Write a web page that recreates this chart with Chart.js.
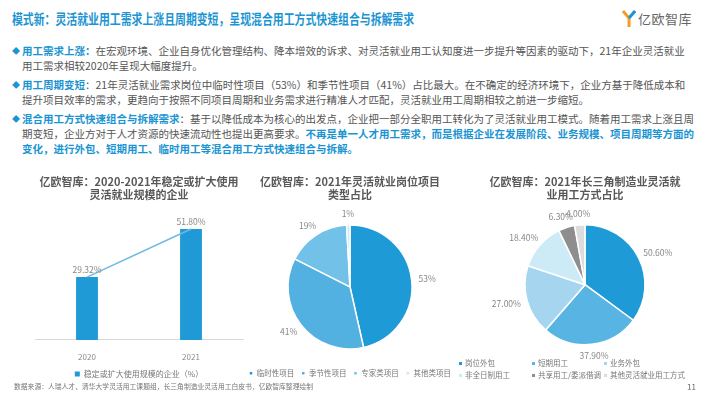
<!DOCTYPE html>
<html lang="zh-CN">
<head>
<meta charset="utf-8">
<title>模式新</title>
<script src="https://cdn.jsdelivr.net/npm/chart.js@4.4.1/dist/chart.umd.min.js"></script>
<style>
  html, body { margin: 0; padding: 0; background: #fff; }
  body { font-family: "Noto Sans CJK SC", "Noto Sans", sans-serif; }
  #slide { position: relative; width: 710px; height: 399px; overflow: hidden; background: #fff; }
  .titre {
    position: absolute; left: 12px; top: 8px; white-space: nowrap;
    font-size: 13.5px; font-weight: 700; color: #1a94d2;
    transform: scaleX(0.805); transform-origin: left top;
  }
  .logo { position: absolute; left: 622px; top: 9px; display: flex; align-items: center; }
  .logo span { font-size: 13px; color: #666; margin-left: 2px; letter-spacing: 0.5px; }
  .puces { position: absolute; left: 12px; top: 43px; font-size: 10.5px; color: #555; line-height: 15px; }
  .puce { margin-bottom: 4px; }
  .ligne { white-space: nowrap; padding-left: 10px; position: relative; }
  .ligne .losange { position: absolute; left: 0; top: 0; color: #1a94d2; font-size: 8px; }
  .cle { color: #1a94d2; font-weight: 700; }
  .boite { position: absolute; }
  .legende3 {
    position: absolute; left: 459px; top: 358px; display: grid;
    grid-template-columns: 73px 72px 100px; row-gap: 2px;
    font-size: 7.5px; color: #777; line-height: 10px;
  }
  .legende3 div { white-space: nowrap; display: flex; align-items: center; }
  .legende3 i { display: inline-block; width: 3px; height: 3px; margin-right: 3px; }
  .source { position: absolute; left: 14px; top: 381px; font-size: 6.8px; color: #777; white-space: nowrap; }
  .page { position: absolute; left: 687px; top: 381px; font-size: 8px; color: #666; }
</style>
</head>
<body>
<div id="slide">
  <div class="titre">模式新：灵活就业用工需求上涨且周期变短，呈现混合用工方式快速组合与拆解需求</div>
  <div class="logo">
    <svg width="14" height="18" viewBox="0 0 14 18">
      <path d="M1 1 L7 8 L7 17" stroke="#f39c2a" stroke-width="3" fill="none"/>
      <path d="M13 1 L7 8" stroke="#1a94d2" stroke-width="3" fill="none"/>
    </svg>
    <span>亿欧智库</span>
  </div>

  <div class="puces">
    <div class="puce">
      <div class="ligne"><span class="losange">◆</span><span class="cle">用工需求上涨：</span>在宏观环境、企业自身优化管理结构、降本增效的诉求、对灵活就业用工认知度进一步提升等因素的驱动下，21年企业灵活就业</div>
      <div class="ligne">用工需求相较2020年呈现大幅度提升。</div>
    </div>
    <div class="puce">
      <div class="ligne"><span class="losange">◆</span><span class="cle">用工周期变短</span>：21年灵活就业需求岗位中临时性项目（53%）和季节性项目（41%）占比最大。在不确定的经济环境下，企业方基于降低成本和</div>
      <div class="ligne">提升项目效率的需求，更趋向于按照不同项目周期和业务需求进行精准人才匹配，灵活就业用工周期相较之前进一步缩短。</div>
    </div>
    <div class="puce">
      <div class="ligne"><span class="losange">◆</span><span class="cle">混合用工方式快速组合与拆解需求</span>：基于以降低成本为核心的出发点，企业把一部分全职用工转化为了灵活就业用工模式。随着用工需求上涨且周</div>
      <div class="ligne">期变短，企业方对于人才资源的快速流动性也提出更高要求。<span class="cle">不再是单一人才用工需求，而是根据企业在发展阶段、业务规模、项目周期等方面的</span></div>
      <div class="ligne"><span class="cle">变化，进行外包、短期用工、临时用工等混合用工方式快速组合与拆解。</span></div>
    </div>
  </div>

  <div class="boite" style="left:25px;top:170px;width:230px;height:220px;"><canvas id="graphe1"></canvas></div>
  <div class="boite" style="left:230px;top:170px;width:240px;height:217px;"><canvas id="graphe2"></canvas></div>
  <div class="boite" style="left:475px;top:170px;width:220px;height:200px;"><canvas id="graphe3"></canvas></div>
  <div class="legende3" id="legende3"></div>

  <div class="source">数据来源：人瑞人才、清华大学灵活用工课题组，长三角制造业灵活用工白皮书，亿欧智库整理绘制</div>
  <div class="page">11</div>
</div>

<script>
// ==========================================================
// DONNÉES
// ==========================================================
const annees = ["2020", "2021"];
const partEntreprises = [29.32, 51.80];
const libelleSerie1 = "稳定或扩大使用规模的企业（%）";

const typesProjets = ["临时性项目", "季节性项目", "专家类项目", "其他类项目"];
const partProjets = [53, 41, 19, 1];
const couleursProjets = ["#1e9ad6", "#52b1e1", "#72c1e9", "#cfe7f4"];

const modesEmploi = ["岗位外包", "短期用工", "业务外包", "非全日制用工", "共享用工/委派借调", "其他灵活就业用工方式"];
const partModes = [50.6, 37.9, 27.0, 18.4, 6.3, 4.0];
const couleursModes = ["#1e9ad6", "#58b4e2", "#a6d6ef", "#cdeaf7", "#8e8e8e", "#dcdcdc"];

Chart.defaults.font.family = "'Noto Sans CJK SC', 'Noto Sans', sans-serif";
Chart.defaults.color = "#777";

const styleTitre = { size: 11, weight: "bold" };

// ==========================================================
// PLUGINS D'ÉTIQUETTES
// ==========================================================
const etiquettesBarres = {
  id: "etiquettesBarres",
  afterDatasetsDraw(chart) {
    const ctx = chart.ctx;
    const meta = chart.getDatasetMeta(1);
    ctx.save();
    ctx.font = "8.5px 'Noto Sans CJK SC', sans-serif";
    ctx.fillStyle = "#888";
    ctx.textAlign = "center";
    ctx.textBaseline = "bottom";
    meta.data.forEach((barre, i) => {
      ctx.fillText(partEntreprises[i].toFixed(2) + "%", barre.x, barre.y - 3);
    });
    ctx.restore();
  }
};

// Étiquettes à l'extérieur, le bord du texte collé au secteur (comme Excel)
function etiquettesSecteurs(format) {
  return {
    id: "etiquettesSecteurs",
    afterDatasetsDraw(chart) {
      const ctx = chart.ctx;
      const valeurs = chart.data.datasets[0].data;
      ctx.save();
      ctx.font = "8.5px 'Noto Sans CJK SC', sans-serif";
      ctx.fillStyle = "#888";
      ctx.textAlign = "center";
      ctx.textBaseline = "middle";
      chart.getDatasetMeta(0).data.forEach((arc, i) => {
        const texte = format(valeurs[i]);
        const angle = (arc.startAngle + arc.endAngle) / 2;
        const cos = Math.cos(angle), sin = Math.sin(angle);
        const r = arc.outerRadius + 7;
        const w = ctx.measureText(texte).width;
        const x = arc.x + cos * r + cos * w / 2;
        const y = arc.y + sin * r + sin * 4.5;
        ctx.fillText(texte, x, y);
      });
      ctx.restore();
    }
  };
}

// ==========================================================
// GRAPHIQUE 1 : BARRES + LIGNE
// ==========================================================
new Chart(document.getElementById("graphe1"), {
  type: "bar",
  data: {
    labels: annees,
    datasets: [
      {
        type: "line",
        label: "趋势",
        data: partEntreprises,
        borderColor: "#6db9e2",
        borderWidth: 1.5,
        pointRadius: 0,
        order: 0
      },
      {
        type: "bar",
        label: libelleSerie1,
        data: partEntreprises,
        backgroundColor: "#1f9ad6",
        categoryPercentage: 1,
        barPercentage: 0.21,
        order: 1
      }
    ]
  },
  options: {
    responsive: true,
    maintainAspectRatio: false,
    animation: false,
    layout: { padding: { left: 10, right: 12, bottom: 2 } },
    plugins: {
      title: {
        display: true,
        text: ["亿欧智库：2020-2021年稳定或扩大使用", "灵活就业规模的企业"],
        font: styleTitre, color: "#595959",
        padding: { top: 5, bottom: 10 }, lineHeight: 1.05
      },
      legend: {
        position: "bottom",
        labels: {
          filter: item => item.datasetIndex === 1,
          boxWidth: 5, boxHeight: 5, font: { size: 8 }, color: "#777", padding: 4.5
        }
      },
      tooltip: { enabled: false }
    },
    scales: {
      x: {
        grid: { display: false },
        border: { color: "#d9d9d9" },
        ticks: { color: "#888", font: { size: 8 }, padding: 4 }
      },
      y: { display: false, min: 0, max: 60 }
    }
  },
  plugins: [etiquettesBarres]
});

// ==========================================================
// GRAPHIQUE 2 : TYPES DE PROJETS
// ==========================================================
new Chart(document.getElementById("graphe2"), {
  type: "pie",
  data: {
    labels: typesProjets,
    datasets: [{
      data: partProjets,
      backgroundColor: couleursProjets,
      borderColor: "#fff",
      borderWidth: 1.5,
      radius: 62
    }]
  },
  options: {
    responsive: true,
    maintainAspectRatio: false,
    animation: false,
    plugins: {
      title: {
        display: true,
        text: ["亿欧智库：2021年灵活就业岗位项目", "类型占比"],
        font: styleTitre, color: "#595959",
        padding: { top: 5, bottom: 10 }, lineHeight: 1.05
      },
      legend: {
        position: "bottom",
        labels: { boxWidth: 4, boxHeight: 4, font: { size: 7.5 }, color: "#777", padding: 7 }
      },
      tooltip: { enabled: false }
    }
  },
  plugins: [etiquettesSecteurs(v => v + "%")]
});

// ==========================================================
// GRAPHIQUE 3 : MODES D'EMPLOI
// ==========================================================
new Chart(document.getElementById("graphe3"), {
  type: "pie",
  data: {
    labels: modesEmploi,
    datasets: [{
      data: partModes,
      backgroundColor: couleursModes,
      borderColor: "#fff",
      borderWidth: 1.5,
      radius: 60
    }]
  },
  options: {
    responsive: true,
    maintainAspectRatio: false,
    animation: false,
    layout: { padding: { bottom: 12 } },
    plugins: {
      title: {
        display: true,
        text: ["亿欧智库：2021年长三角制造业灵活就", "业用工方式占比"],
        font: styleTitre, color: "#595959",
        padding: { top: 5, bottom: 10 }, lineHeight: 1.05
      },
      legend: { display: false },
      tooltip: { enabled: false }
    }
  },
  plugins: [etiquettesSecteurs(v => v.toFixed(2) + "%")]
});

// Légende HTML en grille (3 colonnes) pour le graphique 3
const legende3 = document.getElementById("legende3");
modesEmploi.forEach((nom, i) => {
  const item = document.createElement("div");
  item.innerHTML = `<i style="background:${couleursModes[i]}"></i>${nom}`;
  legende3.appendChild(item);
});
</script>
</body>
</html>
